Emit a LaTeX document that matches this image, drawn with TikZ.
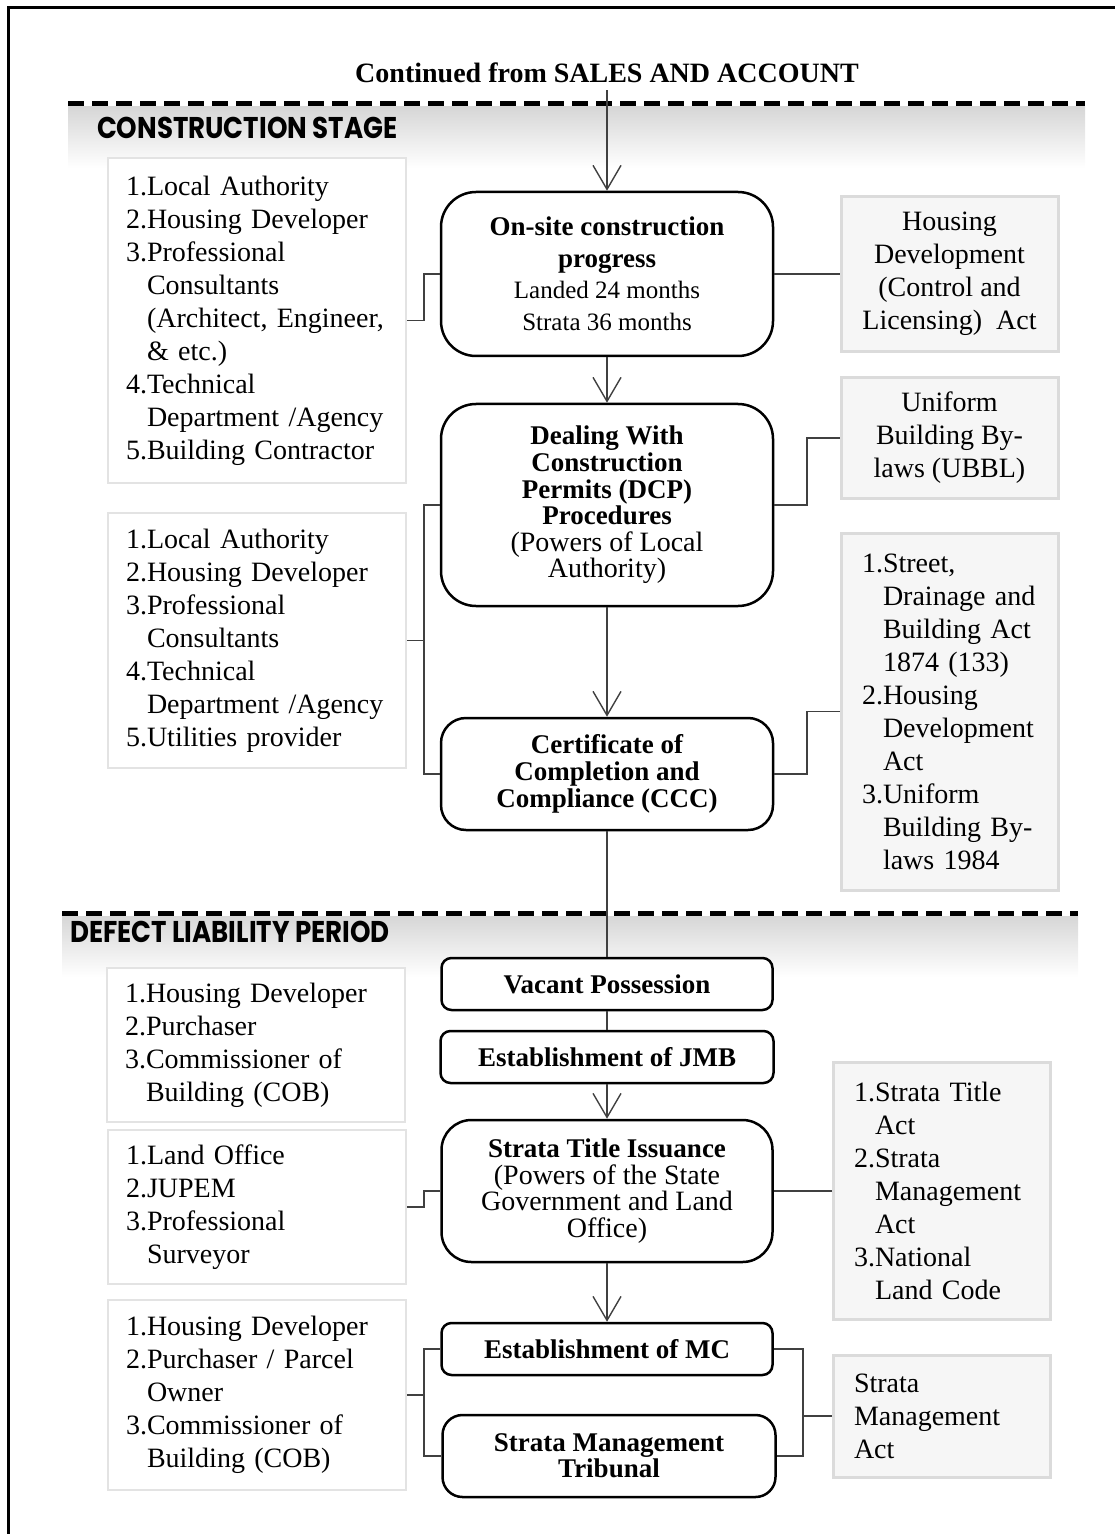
\documentclass[tikz,border=0pt]{standalone}
\usepackage{fontspec}
\setmainfont{Liberation Serif}
\newfontfamily\headfont{Poppins}[FakeStretch=0.87]
\usetikzlibrary{arrows.meta}

% text sizes
\newcommand\sidefont{\fontsize{14}{16.5}\selectfont}
\newcommand\hi{\hspace*{10.5pt}}
\newcommand\bt[1]{{\fontsize{13.5}{16}\selectfont\bfseries #1}}

\tikzset{
  sz/.style 2 args={minimum width=#1*0.5pt, minimum height=#2*0.5pt},
  mainbox/.style={draw=black, line width=1.25pt, fill=white, rounded corners=#1,
    align=center, inner sep=0pt},
  whitebox/.style={draw=gray!22, line width=1pt, fill=white, align=left,
    text width=131pt, inner xsep=9pt, inner ysep=0pt, font=\sidefont},
  graybox/.style={draw=gray!28, line width=1.5pt, fill=gray!7, font=\sidefont,
    inner sep=0pt},
  graylist/.style={graybox, align=left, text width=87.5pt, inner xsep=10.5pt,
    inner ysep=0pt},
  link/.style={draw=black!75, line width=0.7pt},
  flow/.style={link, -{Straight Barb[length=12pt,width=14pt]}},
  band/.style={top color=gray!32, bottom color=white, draw=none},
  stagehead/.style={anchor=west, font=\headfont\fontsize{15}{17}\selectfont\bfseries},
  divider/.style={line width=2.5pt, dash pattern=on 8pt off 4pt},
}

\begin{document}
\begin{tikzpicture}[x=0.5pt,y=-0.5pt]
\useasboundingbox (0,0) rectangle (1115,1534);

% page frame
\draw[line width=1.5pt] (8,1534) -- (8,8) -- (1115,8);

% stage separators with shaded bands
\shade[band] (68,107) rectangle (1085,168);
\draw[divider] (68,104) -- (1085,104);
\shade[band] (62,916) rectangle (1078,977);
\draw[divider] (62,913) -- (1078,913);

\node[font=\fontsize{14}{16}\selectfont\bfseries] (title) at (607,73)
  {Continued from SALES AND ACCOUNT};
\node[stagehead] (hd1) at (90,128) {CONSTRUCTION STAGE};
\node[stagehead] (hd2) at (63,932) {DEFECT LIABILITY PERIOD};

% ---- construction stage: main flow
\node[mainbox=17.5pt, sz={332}{164}, font=\fontsize{12.5}{15.75}\selectfont] (b1) at (607,274)
  {\bt{On-site construction}\\\bt{progress}\\Landed 24 months\\Strata 36 months};
\node[mainbox=17.5pt, sz={332}{202}, font=\fontsize{14}{13.3}\selectfont] (b2) at (607,505)
  {\bt{Dealing With}\\\bt{Construction}\\\bt{Permits (DCP)}\\\bt{Procedures}\\(Powers of Local\\Authority)};
\node[mainbox=12.5pt, sz={332}{112}, font=\fontsize{14}{13.5}\selectfont] (ccc) at (607,774)
  {\bt{Certificate of}\\\bt{Completion and}\\\bt{Compliance (CCC)}};

% ---- defect liability period: main flow
\node[mainbox=5pt, sz={331}{52}] (vp) at (607,984) {\bt{Vacant Possession}};
\node[mainbox=5pt, sz={333}{52}] (jmb) at (607,1057) {\bt{Establishment of JMB}};
\node[mainbox=15pt, sz={331}{142}, font=\fontsize{14}{13.4}\selectfont] (sti) at (607,1191)
  {\bt{Strata Title Issuance}\\(Powers of the State\\Government and Land\\Office)};
\node[mainbox=5pt, sz={331}{52}] (mc) at (607,1349) {\bt{Establishment of MC}};
\node[mainbox=10pt, sz={333}{82}, font=\fontsize{14}{13}\selectfont] (smt) at (609,1456)
  {\bt{Strata Management}\\\bt{Tribunal}};

% ---- parties involved (left)
\node[whitebox, minimum height=162.5pt] (lb1) at (257,320.5)
  {1.Local Authority\\2.Housing Developer\\3.Professional\\\hi Consultants\\\hi(Architect, Engineer,\\\hi\&~etc.)\\4.Technical\\\hi Department /Agency\\5.Building Contractor};
\node[whitebox, minimum height=127.5pt] (lb2) at (257,640.5)
  {1.Local Authority\\2.Housing Developer\\3.Professional\\\hi Consultants\\4.Technical\\\hi Department /Agency\\5.Utilities provider};
\node[whitebox, minimum height=77pt] (lb3) at (256,1045)
  {1.Housing Developer\\2.Purchaser\\3.Commissioner of\\\hi Building (COB)};
\node[whitebox, minimum height=77pt] (lb4) at (257,1207)
  {1.Land Office\\2.JUPEM\\3.Professional\\\hi Surveyor};
\node[whitebox, minimum height=95pt] (lb5) at (257,1395)
  {1.Housing Developer\\2.Purchaser / Parcel\\\hi Owner\\3.Commissioner of\\\hi Building (COB)};

% ---- legislation (right)
\node[graybox, align=center, sz={217}{155}] (rb1) at (949.5,274)
  {Housing\\Development\\(Control and\\Licensing)~~Act};
\node[graybox, align=center, sz={217}{120}] (rb2) at (949.5,438)
  {Uniform\\Building By-\\laws (UBBL)};
\node[graylist, minimum height=178.5pt] (rb3) at (949.5,711.5)
  {1.Street,\\\hi Drainage and\\\hi Building Act\\\hi 1874 (133)\\2.Housing\\\hi Development\\\hi Act\\3.Uniform\\\hi Building By-\\\hi laws 1984};
\node[graylist, minimum height=128.5pt] (rb4) at (941.5,1191)
  {1.Strata Title\\\hi Act\\2.Strata\\\hi Management\\\hi Act\\3.National\\\hi Land Code};
\node[graylist, minimum height=61pt] (rb5) at (941.5,1416)
  {Strata\\Management\\Act};

% bracket columns
\coordinate (kl) at (424,0);
\coordinate (kr) at (807,0);
\coordinate (km) at (803,0);

% ---- flow arrows and plain links
\draw[flow] (title.south -| b1.north) -- (b1.north);
\draw[flow] (b1.south) -- (b2.north);
\draw[flow] (b2.south) -- (ccc.north);
\draw[link] (ccc.south) -- (vp.north);
\draw[link] (vp.south) -- (jmb.north);
\draw[flow] (jmb.south) -- (sti.north);
\draw[flow] (sti.south) -- (mc.north);

% ---- left connectors
\draw[link] (lb1.east) -- (lb1.east -| kl) |- (b1.west);
\draw[link] (b2.west) -- (b2.west -| kl) -- (ccc.west -| kl) -- (ccc.west);
\draw[link] (lb2.east) -- (lb2.east -| kl);
\draw[link] (lb4.east) -- (lb4.east -| kl) |- (sti.west);
\draw[link] (mc.west) -- (mc.west -| kl) -- (smt.west -| kl) -- (smt.west);
\draw[link] (lb5.east) -- (lb5.east -| kl);

% ---- right connectors
\draw[link] (b1.east) -- (rb1.west);
\draw[link] (b2.east) -- (b2.east -| kr) |- (rb2.west);
\draw[link] (ccc.east) -- (ccc.east -| kr) |- (rb3.west);
\draw[link] (sti.east) -- (rb4.west);
\draw[link] (mc.east) -- (mc.east -| km) -- (smt.east -| km) -- (smt.east);
\draw[link, line width=1.1pt] (rb5.west -| km) -- (rb5.west);
\end{tikzpicture}
\end{document}
